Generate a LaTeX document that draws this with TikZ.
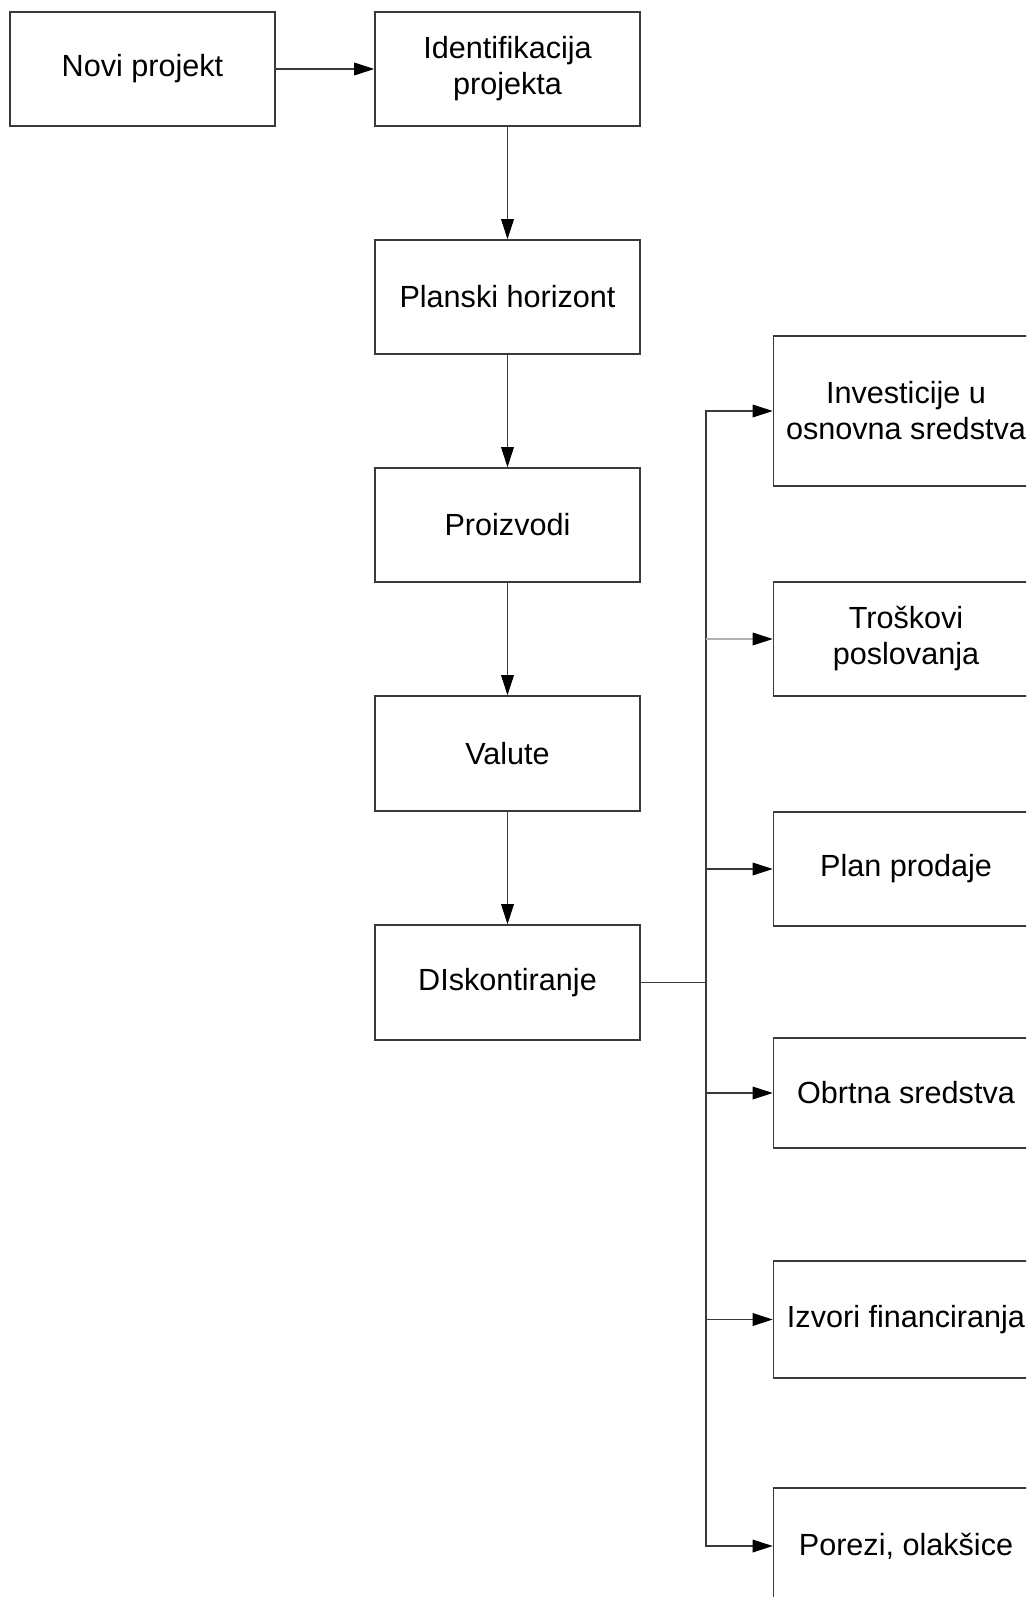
\documentclass[tikz,border=0pt]{standalone}
\usepackage{fontspec}
\setmainfont{Liberation Sans}
\usetikzlibrary{arrows.meta}
\definecolor{edge}{HTML}{3A3A3A}
\definecolor{light}{HTML}{B0B0B0}
\begin{document}
\begin{tikzpicture}[x=1pt,y=-1pt,
  box/.style={draw=edge,line width=1.6pt,minimum width=265pt,inner sep=0pt,align=center,
    font=\fontsize{30.6}{36}\selectfont},
  conn/.style={draw=edge,line width=1.8pt},
  arr/.style={conn,-{Triangle[length=20pt,width=13pt,line width=0pt,fill=black,color=black]}}]
\useasboundingbox (0,0) rectangle (1026,1597);
\clip (0,0) rectangle (1026,1597);
\node[box,minimum height=114pt] (novi) at (142.5,69) {Novi projekt};
\node[box,minimum height=114pt] (ident) at (507.5,69) {Identifikacija\\projekta};
\node[box,minimum height=114pt] (plan) at (507.5,297) {Planski horizont};
\node[box,minimum height=114pt] (proiz) at (507.5,525) {Proizvodi};
\node[box,minimum height=115pt] (valute) at (507.5,753.5) {Valute};
\node[box,minimum height=115pt] (disk) at (507.5,982.5) {DIskontiranje};
\node[box,minimum height=150pt] (inv) at (906,411) {Investicije u\\osnovna sredstva};
\node[box,minimum height=114pt] (tros) at (906,639) {Troškovi\\poslovanja};
\node[box,minimum height=114pt] (planp) at (906,869) {Plan prodaje};
\node[box,minimum height=110pt] (obrt) at (906,1093) {Obrtna sredstva};
\node[box,minimum height=117pt] (izv) at (906,1319.5) {Izvori financiranja};
\node[box,minimum height=116pt] (por) at (906,1546) {Porezi, olakšice};
\coordinate (trunk) at (706,982.5);
\draw[arr] (novi) -- (ident);
\draw[arr] (ident) -- (plan);
\draw[arr] (plan) -- (proiz);
\draw[arr] (proiz) -- (valute);
\draw[arr] (valute) -- (disk);
\draw[conn] (disk.east) -- (trunk);
\draw[arr] (trunk) |- (inv.west);
\draw[arr] (trunk) |- (planp.west);
\draw[arr] (trunk) |- (obrt.west);
\draw[arr] (trunk) |- (izv.west);
\draw[arr] (trunk) |- (por.west);
\draw[arr,draw=light,line width=1.4pt] (trunk |- tros.west) -- (tros.west);
\end{tikzpicture}
\end{document}
